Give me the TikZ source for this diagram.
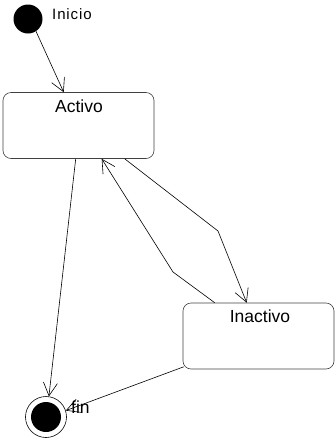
\documentclass[tikz,border=0pt]{standalone}
\usepackage{fontspec}
\setmainfont{Liberation Sans}
\usetikzlibrary{arrows.meta,calc}
\begin{document}
\begin{tikzpicture}[x=1pt,y=-1pt,
  statebox/.style={draw=black!75,line width=0.6pt,rounded corners=8pt,
    minimum width=151pt,minimum height=66pt,inner sep=0pt},
  statelabel/.style={font=\fontsize{17.5}{20}\selectfont,anchor=base,inner sep=0pt},
  flow/.style={draw=black,line width=0.6pt,
    -{Straight Barb[length=13pt,width=14pt,line width=0.6pt]}},
  plainflow/.style={draw=black,line width=0.6pt}]
\useasboundingbox (0,0) rectangle (335,440);

% initial pseudo-state
\node[circle,fill=black,minimum size=29pt,inner sep=0pt] (init) at (28,19) {};
\node[anchor=base west,inner sep=0pt,
  font=\fontsize{15}{17}\selectfont\addfontfeatures{LetterSpace=6}] (initlbl) at (52,19) {Inicio};

% states
\node[statebox] (activo) at (78.5,125.5) {};
\node[statelabel] (activolbl) at (79,112) {Activo};
\node[statebox] (inactivo) at (258.5,336) {};
\node[statelabel] (inactivolbl) at (260,322) {Inactivo};

% final pseudo-state
\node[circle,draw=black,line width=0.6pt,minimum size=41pt,inner sep=0pt] (fin) at (46,417) {};
\node[circle,fill=black,minimum size=30pt,inner sep=0pt] (fincore) at (46,417) {};

% bend points of the two transitions between the states
\coordinate (bendA) at (218,231);
\coordinate (bendB) at (173,272);

% transitions
\draw[flow] (init.-57) -- ([xshift=61pt]activo.north west);
\draw[flow] ([xshift=73pt]activo.south west) -- (fin.82);
\draw[plainflow] ([xshift=122pt]activo.south west) -- (bendA);
\draw[flow] (bendA) -- ([xshift=64pt]inactivo.north west);
\draw[plainflow] ([xshift=32pt]inactivo.north west) -- (bendB);
\draw[flow] (bendB) -- ([xshift=99pt]activo.south west);
\draw[flow] ([xshift=1pt,yshift=2.5pt]inactivo.south west) -- (fin.18);

\node[anchor=base west,inner sep=0pt,font=\fontsize{17.5}{20}\selectfont] (finlbl) at (71,413) {fin};
\end{tikzpicture}
\end{document}
